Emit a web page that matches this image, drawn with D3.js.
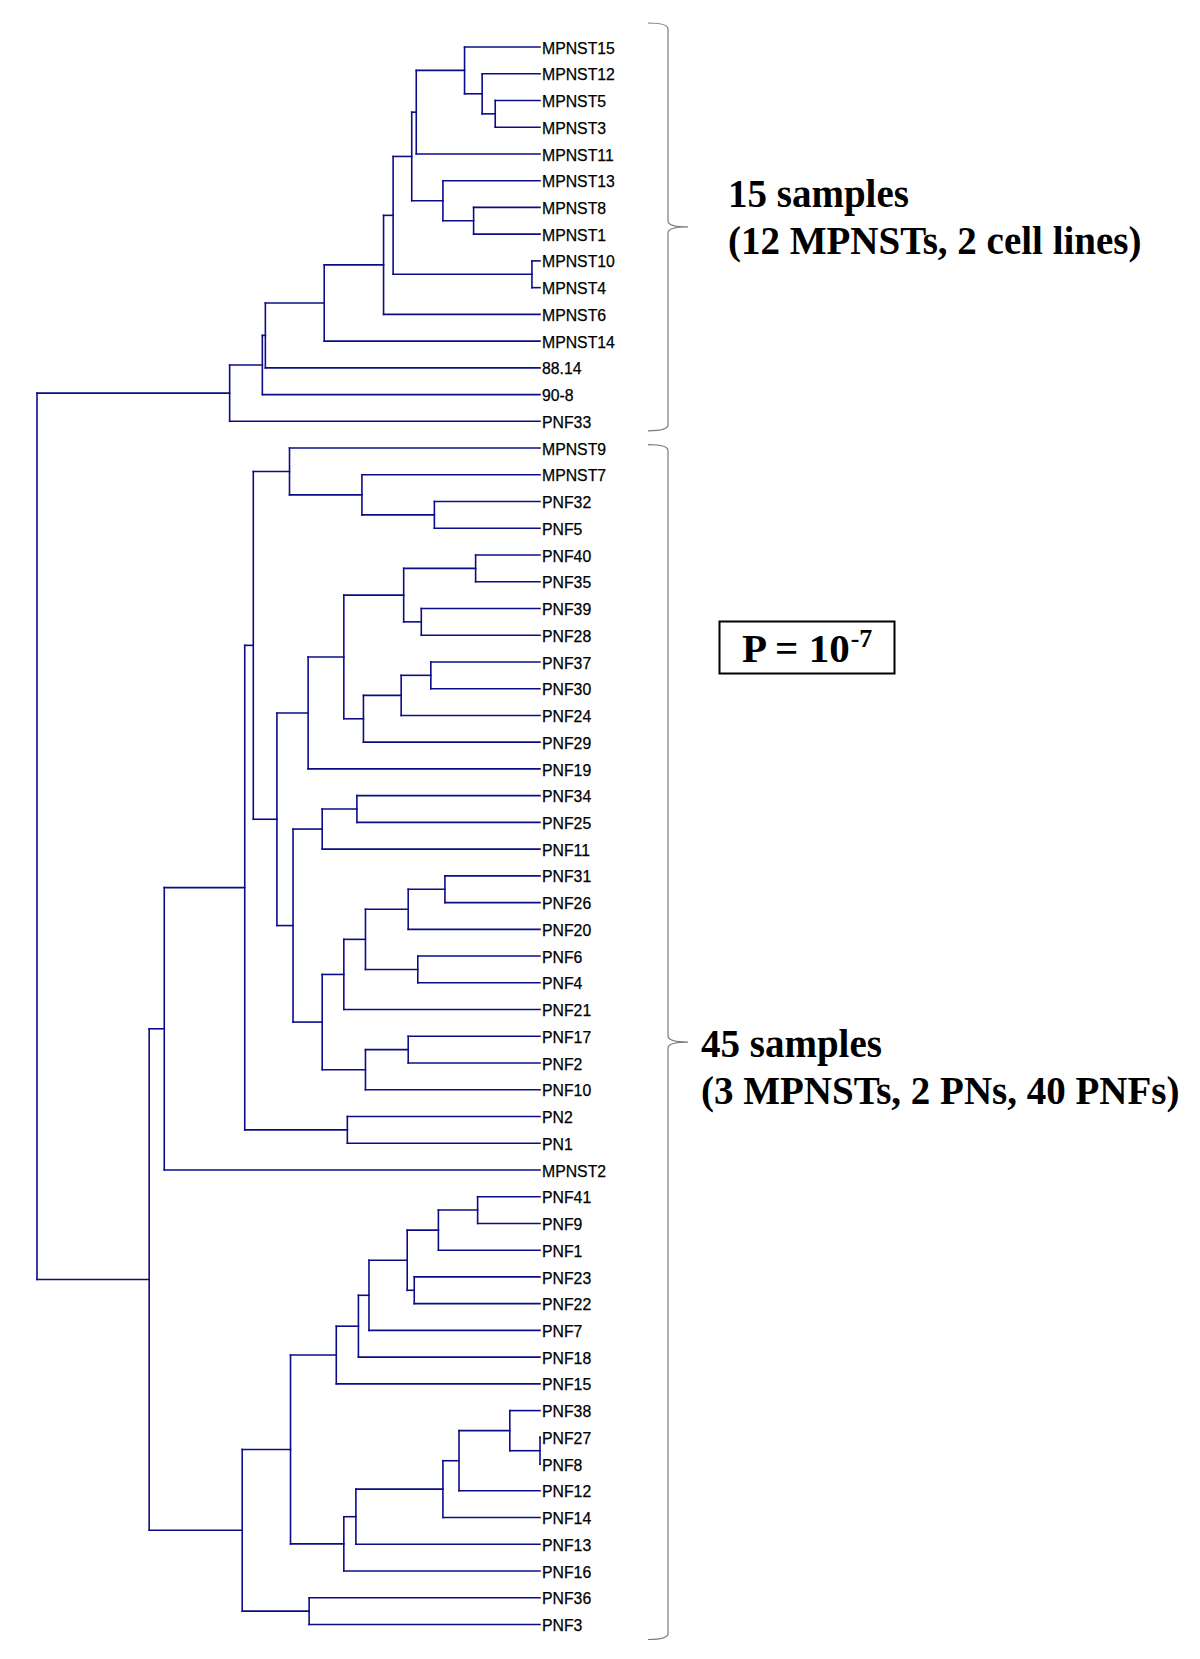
<!DOCTYPE html>
<html>
<head>
<meta charset="utf-8">
<script src="https://cdn.jsdelivr.net/npm/d3@7"></script>
<style>
  html, body { margin: 0; padding: 0; background: #fff; }
  svg { display: block; }
</style>
</head>
<body>
<script>
// ---------------- DATA ----------------
const leaves = ["MPNST15","MPNST12","MPNST5","MPNST3","MPNST11","MPNST13","MPNST8","MPNST1",
  "MPNST10","MPNST4","MPNST6","MPNST14","88.14","90-8","PNF33",
  "MPNST9","MPNST7","PNF32","PNF5","PNF40","PNF35","PNF39","PNF28","PNF37","PNF30","PNF24",
  "PNF29","PNF19","PNF34","PNF25","PNF11","PNF31","PNF26","PNF20","PNF6","PNF4","PNF21",
  "PNF17","PNF2","PNF10","PN2","PN1","MPNST2","PNF41","PNF9","PNF1","PNF23","PNF22","PNF7",
  "PNF18","PNF15","PNF38","PNF27","PNF8","PNF12","PNF14","PNF13","PNF16","PNF36","PNF3"];

// [node id, first child, second child, merge height (root = 100)]
const merges = [
  ["n1","MPNST5","MPNST3",8.9],
  ["n2","MPNST12","n1",11.5],
  ["n3","MPNST15","n2",15.0],
  ["n4","n3","MPNST11",24.6],
  ["n5","MPNST8","MPNST1",13.2],
  ["n6","MPNST13","n5",19.3],
  ["n7","n4","n6",25.5],
  ["n8","MPNST10","MPNST4",1.6],
  ["n9","n7","n8",29.2],
  ["n10","n9","MPNST6",31.1],
  ["n11","n10","MPNST14",42.9],
  ["n12","n11","88.14",54.6],
  ["n13","n12","90-8",55.2],
  ["n14","n13","PNF33",61.7],
  ["b1","PNF32","PNF5",21.0],
  ["b2","MPNST7","b1",35.4],
  ["b3","MPNST9","b2",49.8],
  ["b4","PNF40","PNF35",12.8],
  ["b5","PNF39","PNF28",23.6],
  ["b6","b4","b5",27.1],
  ["b7","PNF37","PNF30",21.7],
  ["b8","b7","PNF24",27.6],
  ["b9","b8","PNF29",35.1],
  ["b10","b6","b9",39.0],
  ["b11","b10","PNF19",46.1],
  ["b12","PNF34","PNF25",36.4],
  ["b13","b12","PNF11",43.3],
  ["b14","PNF31","PNF26",18.9],
  ["b15","b14","PNF20",26.2],
  ["b16","PNF6","PNF4",24.3],
  ["b17","b15","b16",34.7],
  ["b18","b17","PNF21",39.0],
  ["b19","PNF17","PNF2",26.2],
  ["b20","b19","PNF10",34.7],
  ["b21","b18","b20",43.3],
  ["b22","b13","b21",49.1],
  ["b23","b11","b22",52.3],
  ["b24","b3","b23",57.0],
  ["b25","PN2","PN1",38.3],
  ["b26","b24","b25",58.7],
  ["b27","b26","MPNST2",74.7],
  ["c1","PNF41","PNF9",12.4],
  ["c2","c1","PNF1",20.2],
  ["c3","PNF23","PNF22",25.0],
  ["c4","c2","c3",26.4],
  ["c5","c4","PNF7",34.0],
  ["c6","c5","PNF18",36.1],
  ["c7","c6","PNF15",40.5],
  ["c8","PNF27","PNF8",0.0],
  ["c9","PNF38","c8",6.0],
  ["c10","c9","PNF12",16.1],
  ["c11","c10","PNF14",19.3],
  ["c12","c11","PNF13",36.6],
  ["c13","c12","PNF16",39.0],
  ["c14","c7","c13",49.6],
  ["c15","PNF36","PNF3",45.9],
  ["c16","c14","c15",59.2],
  ["c17","b27","c16",77.7],
  ["root","n14","c17",100]
];

// cluster annotations: [first leaf, last leaf]
const groups = [["MPNST15","PNF33"],["MPNST9","PNF3"]];
const groupTitles = ["15 samples","45 samples"];
const groupSubtitles = ["(12 MPNSTs, 2 cell lines)","(3 MPNSTs, 2 PNs, 40 PNFs)"];
const pLabel = "P = 10";
const pExponent = "-7";

// ---------------- BUILD TREE ----------------
const nodeMap = {};
leaves.forEach(l => nodeMap[l] = {name: l, height: 0});
merges.forEach(([id, a, b, h]) => {
  nodeMap[id] = {name: id, height: h, children: [nodeMap[a], nodeMap[b]]};
});
const root = d3.hierarchy(nodeMap["root"]);

const W = 1200, H = 1659;
const svg = d3.select("body").append("svg").attr("width", W).attr("height", H);
svg.append("rect").attr("width", W).attr("height", H).attr("fill", "#fff");

const y = d3.scalePoint().domain(leaves).range([47, 1624.5]);
const x = d3.scaleLinear().domain([0, 100]).range([540, 37]);

root.eachAfter(n => {
  if (!n.children) n.py = y(n.data.name);
  else n.py = d3.mean(n.children, c => c.py);
  n.px = x(n.data.height);
});

const lineColor = "#0c0c88";
const gLinks = svg.append("g").attr("fill", "none").attr("stroke", lineColor)
  .attr("stroke-width", 1.6).attr("stroke-linecap", "square");

root.descendants().filter(n => n.children).forEach(n => {
  const [a, b] = n.children;
  gLinks.append("line").attr("x1", n.px).attr("x2", n.px).attr("y1", a.py).attr("y2", b.py);
  n.children.forEach(c => {
    gLinks.append("line").attr("x1", n.px).attr("x2", c.px).attr("y1", c.py).attr("y2", c.py);
  });
});

// leaf labels
svg.append("g").selectAll("text").data(root.leaves()).join("text")
  .attr("x", 542).attr("y", d => d.py + 6.6)
  .attr("font-family", "'Liberation Sans', Arial, sans-serif")
  .attr("font-size", 15.8).attr("fill", "#000")
  .attr("stroke", "#000").attr("stroke-width", 0.25)
  .text(d => d.data.name);

// ---------------- BRACES ----------------
const braceX = 668, hookX = 648, tipX = 688;
const braceExt = [[-24, 9.5], [-3.5, 15]];
groups.forEach((g, i) => {
  const top = y(g[0]) + braceExt[i][0];
  const bot = y(g[1]) + braceExt[i][1];
  const mid = (top + bot) / 2;
  const p = d3.path();
  p.moveTo(hookX, top);
  p.quadraticCurveTo(braceX, top, braceX, top + 6);
  p.lineTo(braceX, mid - 6);
  p.quadraticCurveTo(braceX, mid, tipX, mid);
  p.quadraticCurveTo(braceX, mid, braceX, mid + 6);
  p.lineTo(braceX, bot - 6);
  p.quadraticCurveTo(braceX, bot, hookX, bot);
  svg.append("path").attr("d", p.toString()).attr("fill", "none")
    .attr("stroke", "#7a7a7a").attr("stroke-width", 1.2);
});

// ---------------- ANNOTATIONS ----------------
const serif = "'Liberation Serif', 'Times New Roman', serif";
const textPos = [[728, 207, 254], [701, 1057, 1104]];
groups.forEach((g, i) => {
  const [tx, b1, b2] = textPos[i];
  svg.append("text").attr("x", tx).attr("y", b1)
    .attr("font-family", serif).attr("font-weight", "bold").attr("font-size", 39)
    .attr("fill", "#000").text(groupTitles[i]);
  svg.append("text").attr("x", tx).attr("y", b2)
    .attr("font-family", serif).attr("font-weight", "bold").attr("font-size", 39)
    .attr("fill", "#000").text(groupSubtitles[i]);
});

svg.append("rect").attr("x", 719.5).attr("y", 621.5).attr("width", 175).attr("height", 52)
  .attr("fill", "none").attr("stroke", "#000").attr("stroke-width", 2);
const pt = svg.append("text").attr("x", 742).attr("y", 662)
  .attr("font-family", serif).attr("font-weight", "bold").attr("font-size", 41).attr("fill", "#000");
pt.append("tspan").text(pLabel);
pt.append("tspan").attr("dy", -15).attr("dx", 1).attr("font-size", 26).text(pExponent);
</script>
</body>
</html>
